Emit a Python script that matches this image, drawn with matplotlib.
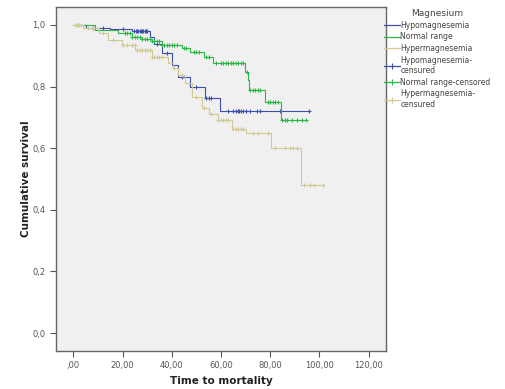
import numpy as np
import matplotlib
matplotlib.use('Agg')
import matplotlib.pyplot as plt
from matplotlib.lines import Line2D

# Kaplan-Meier curves (time, survival after step)
hypo_t = [0, 5, 15, 24, 31, 33, 36, 40, 42.5, 47.4, 53.5, 59.6]
hypo_s = [1.0, 0.99, 0.985, 0.98, 0.96, 0.937, 0.908, 0.870, 0.832, 0.800, 0.762, 0.722]
hypo_end = 95.7
hypo_cens = [2, 8, 12, 20, 24.5, 25.5, 26, 26.5, 27, 27.5, 28, 28.5, 29, 29.5, 30,
             34, 38, 44, 50, 54, 55, 56, 63, 65, 66, 67, 67.5, 68, 69, 70, 72,
             74.5, 76, 84, 95.7]

norm_t = [0, 9, 18, 24, 28, 32, 36, 44, 47.4, 53, 56.8, 69.6, 71, 71.6, 77.8, 84.3]
norm_s = [1.0, 0.984, 0.973, 0.962, 0.955, 0.947, 0.935, 0.924, 0.913, 0.897,
          0.876, 0.848, 0.821, 0.789, 0.751, 0.692]
norm_end = 94.7
norm_cens = [21, 22, 23, 24, 25, 26, 27, 28, 29, 30, 31, 32, 33, 34, 35, 36, 37, 38,
             39, 40, 41, 42, 45, 46, 49, 50, 51, 54, 55, 58, 60, 61, 62, 63, 64, 65,
             66, 67, 68, 69, 70.5, 72, 73, 74, 75, 76, 79, 80, 81, 82, 83, 85, 86,
             87, 89, 91, 93, 94.7]

hyper_t = [0, 4, 10.3, 14.3, 19.7, 25.1, 31.9, 38.6, 40.5, 42.6, 45.3, 48.1,
           52.2, 55, 58.8, 64.3, 70.2, 80.5, 92.7]
hyper_s = [1.0, 0.99, 0.973, 0.951, 0.935, 0.919, 0.897, 0.876, 0.86, 0.838,
           0.811, 0.767, 0.730, 0.71, 0.692, 0.662, 0.648, 0.600, 0.481]
hyper_end = 101.3
hyper_cens = [1, 2, 3, 6, 8, 12, 16, 20, 22, 24, 25, 26, 27, 28, 29, 30, 31, 32, 33,
              34, 35, 36, 41, 44, 47, 50, 53, 56, 59, 60, 61, 62, 63, 65, 66, 67,
              68, 69, 73, 75, 79, 81.9, 85.9, 88, 89.2, 90.8, 93.6, 96, 98, 101.3]

x_ticks = [0, 20, 40, 60, 80, 100, 120]
x_labels = [',00', '20,00', '40,00', '60,00', '80,00', '100,00', '120,00']
y_ticks = [0.0, 0.2, 0.4, 0.6, 0.8, 1.0]
y_labels = ['0,0', '0,2', '0,4', '0,6', '0,8', '1,0']

groups = [
    ('Hypomagnesemia', hypo_t, hypo_s, hypo_end, hypo_cens, '#3e4fa8'),
    ('Normal range', norm_t, norm_s, norm_end, norm_cens, '#2eb548'),
    ('Hypermagnesemia', hyper_t, hyper_s, hyper_end, hyper_cens, '#d0c993'),
]

fig = plt.figure(figsize=(5.05, 3.89), dpi=100)
ax = fig.add_axes([0.111, 0.098, 0.653, 0.884])
ax.set_facecolor('#f0f0f0')

for name, t, s, end, cens, col in groups:
    tt = list(t) + [end]
    ss = list(s) + [s[-1]]
    ax.step(tt, ss, where='post', color=col, lw=0.8)
    idx = np.searchsorted(t, cens, side='right') - 1
    cy = np.array(s)[idx]
    ax.plot(cens, cy, ls='none', marker='+', ms=3.5, mew=0.8, color=col)

ax.set_xlim(-7, 127)
ax.set_ylim(-0.058, 1.058)
ax.set_xticks(x_ticks)
ax.set_xticklabels(x_labels)
ax.set_yticks(y_ticks)
ax.set_yticklabels(y_labels)
ax.tick_params(direction='out', length=4, width=0.8, labelsize=6,
               colors='#555555', labelcolor='#555555')
for sp in ax.spines.values():
    sp.set_color('#666666')
    sp.set_linewidth(1.0)

ax.set_xlabel('Time to mortality', fontsize=7.5, fontweight='bold', color='#222222')
ax.set_ylabel('Cumulative survival', fontsize=7.5, fontweight='bold', color='#222222',
              labelpad=1)

handles = []
labels = []
for name, t, s, end, cens, col in groups:
    handles.append(Line2D([], [], color=col, lw=0.9))
    labels.append(name)
cens_names = ['Hypomagnesemia-\ncensured', 'Normal range-censored', 'Hypermagnesemia-\ncensured']
for (name, t, s, end, cens, col), lab in zip(groups, cens_names):
    handles.append(Line2D([], [], color=col, lw=0.9, marker='+', ms=5, mew=0.8))
    labels.append(lab)

leg = fig.legend(handles, labels, loc='upper left', bbox_to_anchor=(0.755, 0.985),
                 frameon=False, fontsize=5.5, title='Magnesium', title_fontsize=6.5,
                 handlelength=2.0, handletextpad=0.1, labelspacing=0.35,
                 borderaxespad=0)
for txt in leg.get_texts():
    txt.set_color('#444444')
leg.get_title().set_color('#444444')

fig.savefig('out.png', dpi=100)
